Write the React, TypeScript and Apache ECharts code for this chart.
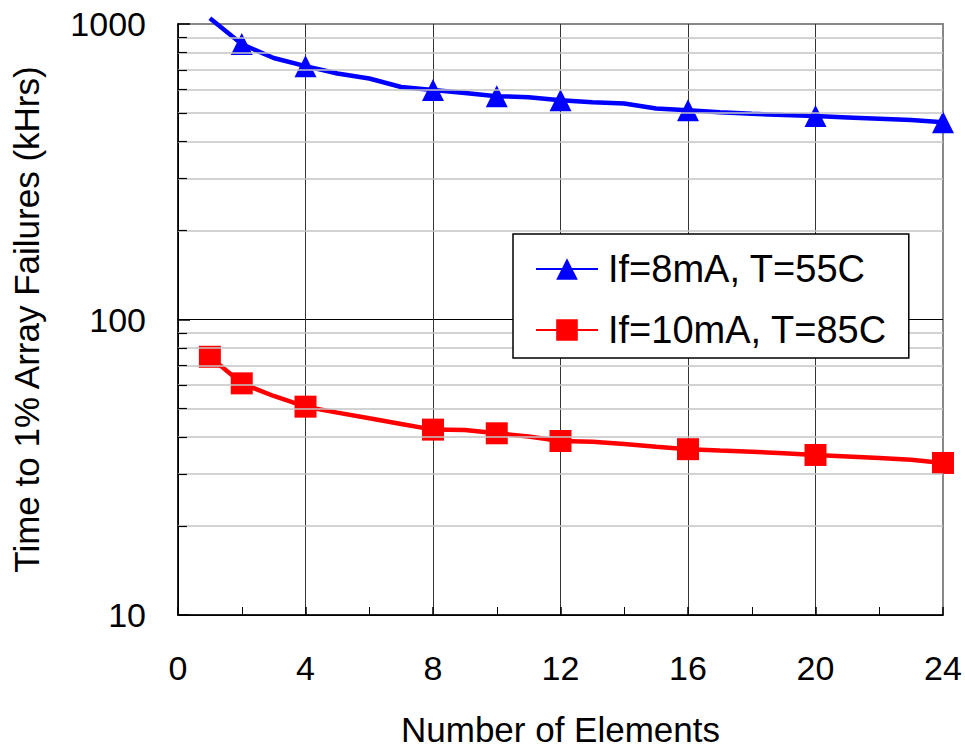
import React, { useEffect, useRef } from "react";
import * as echarts from "echarts";

// Number of elements (x values) at which each curve was read
const elements = [1, 2, 3, 4, 5, 6, 7, 8, 9, 10, 11, 12, 13, 14, 15, 16, 17, 18, 19, 20, 21, 22, 23, 24];
// Time to 1% array failures (kHrs)
const blueValues = [1045, 855, 767, 720, 680, 654, 612, 598, 584, 570, 565, 552, 543, 538, 518, 511, 503, 497, 492, 488, 483, 478, 473, 465];
const redValues = [74.8, 60.8, 55.1, 50.7, 48.4, 46.3, 44.3, 42.4, 42.3, 41.2, 40.2, 38.8, 38.6, 37.9, 37.1, 36.4, 36.0, 35.7, 35.3, 34.8, 34.4, 34.0, 33.5, 32.7];
// x values carrying a marker
const blueMarkerAt = [2, 4, 8, 10, 12, 16, 20, 24];
const redMarkerAt = [1, 2, 4, 8, 10, 12, 16, 20, 24];

const seriesNames = ["If=8mA, T=55C", "If=10mA, T=85C"];
const yMinorGrid = [20, 30, 40, 50, 60, 70, 80, 90, 200, 300, 400, 500, 600, 700, 800, 900];

const FONT = "'Liberation Sans', Arial, sans-serif";

export default function App() {
  const ref = useRef<HTMLDivElement>(null);
  useEffect(() => {
    if (!ref.current) return;
    const chart = echarts.init(ref.current, null, { renderer: "svg" });
    const mk = (vals: number[], marks: number[], sym: string) =>
      elements.map((x, i) => ({ value: [x, vals[i]], symbol: marks.includes(x) ? sym : "none" }));

    chart.setOption({
      animation: false,
      backgroundColor: "#fff",
      textStyle: { fontFamily: FONT },
      grid: {
        left: 178, right: 22, top: 24, bottom: 133,
        containLabel: false, outerBoundsMode: "none",
        show: true, borderColor: "#888", borderWidth: 2, backgroundColor: "transparent",
      },
      legend: {
        data: seriesNames,
        orient: "vertical",
        left: 513,
        top: 234,
        itemWidth: 62,
        itemHeight: 27,
        itemGap: 23,
        padding: [16, 22, 9, 22],
        backgroundColor: "#fff",
        borderColor: "#000",
        borderWidth: 1.5,
        borderRadius: 0,
        textStyle: { fontSize: 38, color: "#000", fontFamily: FONT, padding: [0, 0, 0, 5] },
        z: 10,
      },
      xAxis: {
        type: "value",
        min: 0,
        max: 24,
        interval: 4,
        name: "Number of Elements",
        nameLocation: "middle",
        nameGap: 97,
        nameTextStyle: { fontSize: 35, color: "#000", fontFamily: FONT },
        axisLine: { show: true, lineStyle: { color: "#000", width: 1.5 } },
        axisTick: { show: true, inside: true, length: 8, lineStyle: { color: "#000", width: 1.5 } },
        minorTick: { show: true, splitNumber: 2, length: 8, lineStyle: { color: "#000", width: 1 } },
        axisLabel: { fontSize: 34, color: "#000", margin: 36, fontFamily: FONT, formatter: (v: number) => String(v) },
        splitLine: { show: true, lineStyle: { color: ["#000", "#333", "#333", "#333", "#333", "#333", "transparent"], width: 1 } },
      },
      yAxis: {
        type: "log",
        logBase: 10,
        min: 10,
        max: 1000,
        name: "Time to 1% Array Failures (kHrs)",
        nameLocation: "middle",
        nameGap: 134,
        nameTextStyle: { fontSize: 35, color: "#000", fontFamily: FONT },
        axisLine: { show: true, lineStyle: { color: "#000", width: 1.5 } },
        axisTick: { show: true, inside: true, length: 12, lineStyle: { color: "#000", width: 1.5 } },
        axisLabel: { fontSize: 34, color: "#000", margin: 32, fontFamily: FONT, formatter: (v: number) => String(Math.round(v)) },
        splitLine: { show: true, lineStyle: { color: ["#000", "#000", "transparent"], width: 1 } },
      },
      series: [
        {
          name: "minor-grid",
          type: "line",
          data: [],
          z: 1,
          silent: true,
          markLine: {
            silent: true,
            symbol: "none",
            label: { show: false },
            lineStyle: { color: "#c4c4c4", width: 1.5, type: "solid" },
            data: [
              ...yMinorGrid.map((v) => ({ yAxis: v })),
              ...yMinorGrid.map((v) => [
                { coord: [0, v], lineStyle: { color: "#000", width: 1.2, type: "solid" } },
                { coord: [0.28, v] },
              ]),
            ],
          },
        },
        {
          name: seriesNames[0],
          type: "line",
          z: 3,
          clip: false,
          data: mk(blueValues, blueMarkerAt, "triangle"),
          symbol: "triangle",
          symbolSize: 22,
          lineStyle: { color: "#0000ff", width: 4.5 },
          itemStyle: { color: "#0000ff" },
        },
        {
          name: seriesNames[1],
          type: "line",
          z: 3,
          clip: false,
          data: mk(redValues, redMarkerAt, "rect"),
          symbol: "rect",
          symbolSize: 22,
          lineStyle: { color: "#ff0000", width: 4.5 },
          itemStyle: { color: "#ff0000" },
        },
      ],
    });
    return () => chart.dispose();
  }, []);
  return <div ref={ref} style={{ width: 965, height: 748, position: "absolute", left: 0, top: 0 }} />;
}
